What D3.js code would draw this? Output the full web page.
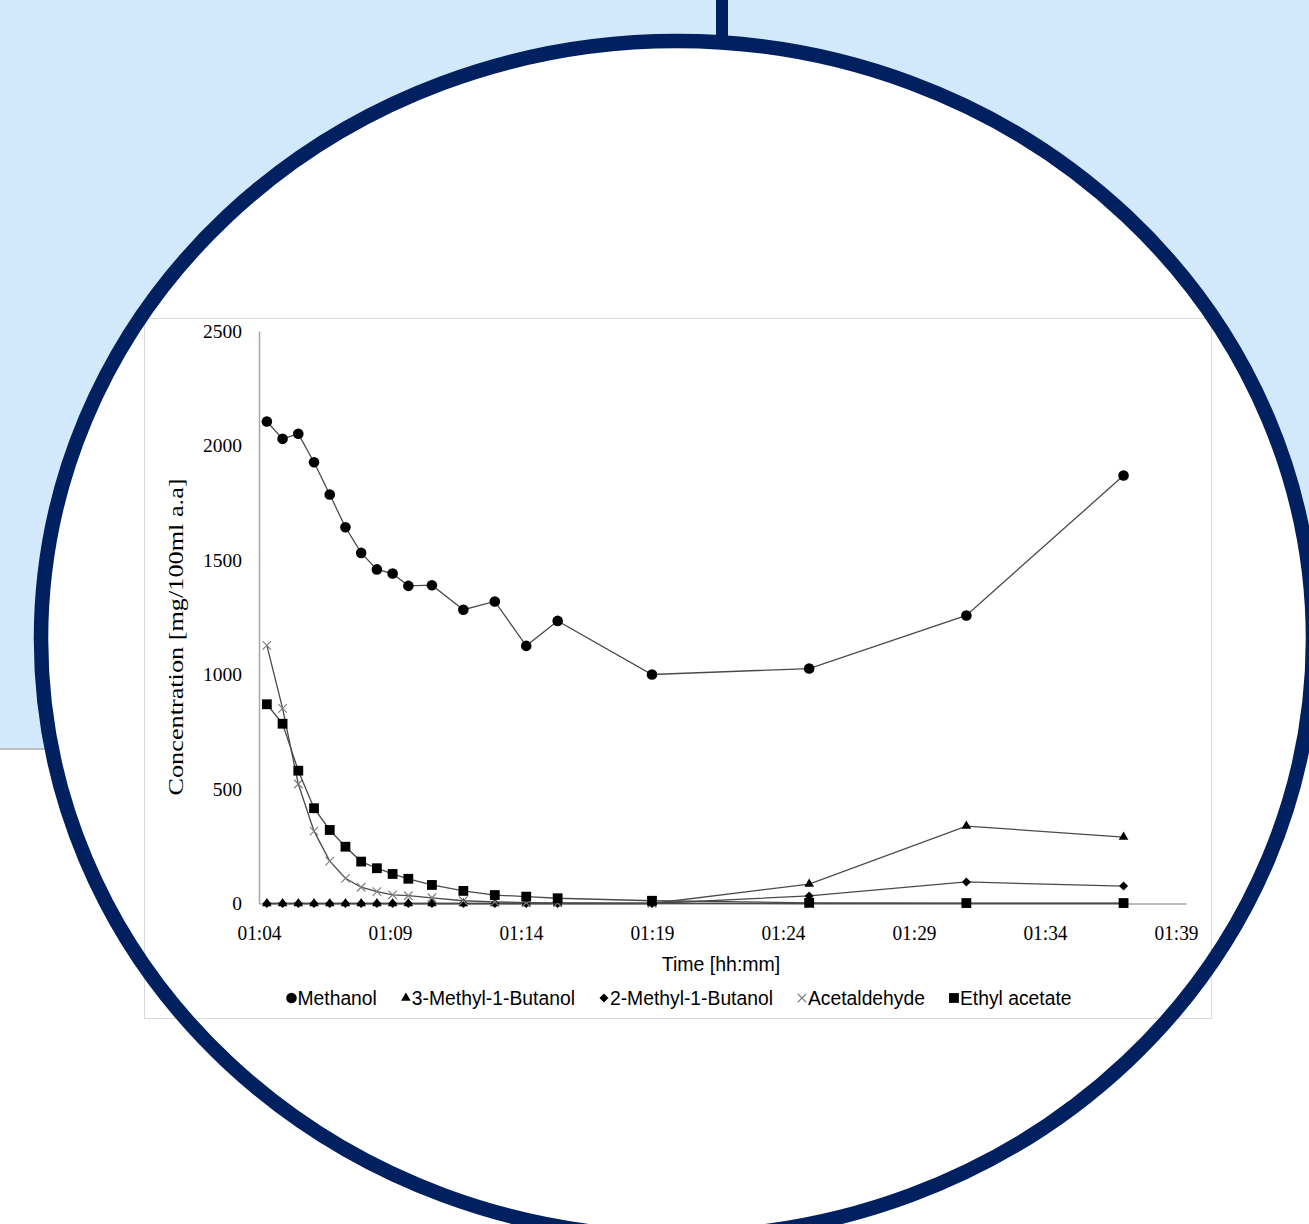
<!DOCTYPE html>
<html>
<head>
<meta charset="utf-8">
<script src="https://cdn.jsdelivr.net/npm/d3@7"></script>
<style>
  body { margin: 0; background: #fff; }
  svg { display: block; }
</style>
</head>
<body>
<svg id="chart" width="1309" height="1224"></svg>
<script>
// sampling times (hh:mm:ss)
var times = ["01:04:18", "01:04:54", "01:05:30", "01:06:06", "01:06:42", "01:07:18", "01:07:54",
             "01:08:30", "01:09:06", "01:09:42", "01:10:36", "01:11:48", "01:13:00", "01:14:12",
             "01:15:24", "01:19:00", "01:25:00", "01:31:00", "01:37:00"];

// concentrations, mg/100ml a.a
var methanol      = [2105, 2029, 2051, 1927, 1786, 1643, 1531, 1459, 1441, 1387, 1390, 1283, 1319, 1125, 1234, 1000, 1026, 1258, 1869];
var methylBut3    = [0, 0, 0, 0, 0, 0, 0, 0, 0, 0, 0, 0, 0, 0, 0, 0, 85, 338, 290];
var methylBut2    = [0, 0, 0, 0, 0, 0, 0, 0, 0, 0, 0, 0, 0, 0, 0, 0, 33, 94, 76];
var acetaldehyde  = [1127, 852, 522, 316, 185, 110, 71, 52, 38, 34, 25, 12, 7, 4, 3, 1, 0, 0, 0];
var ethylAcetate  = [870, 785, 580, 416, 321, 248, 183, 154, 129, 108, 81, 55, 37, 30, 23, 12, 3, 2, 2];

var seriesNames = ["Methanol", "3-Methyl-1-Butanol", "2-Methyl-1-Butanol", "Acetaldehyde", "Ethyl acetate"];
var yTicks = [0, 500, 1000, 1500, 2000, 2500];
var xTickLabels = ["01:04", "01:09", "01:14", "01:19", "01:24", "01:29", "01:34", "01:39"];
var xEnd = "01:39:23";

var navy = "#002060";
var lightBlue = "#d2e9fc";
var serif = "'Liberation Serif', 'Times New Roman', serif";
var sans = "'Liberation Sans', Arial, sans-serif";

var svg = d3.select("#chart");

// background slide
svg.append("rect").attr("x", 0).attr("y", 0).attr("width", 1309).attr("height", 748).attr("fill", lightBlue);
svg.append("line").attr("x1", 0).attr("x2", 1309).attr("y1", 749).attr("y2", 749)
   .attr("stroke", "#bfbfbf").attr("stroke-width", 2);
svg.append("ellipse").attr("cx", 677).attr("cy", 639).attr("rx", 636).attr("ry", 598).attr("fill", "#fff");
svg.append("rect").attr("x", 716).attr("y", 0).attr("width", 12).attr("height", 42).attr("fill", navy);

// chart panel
svg.append("rect").attr("x", 144.5).attr("y", 318.5).attr("width", 1067).attr("height", 700)
   .attr("fill", "#fff").attr("stroke", "#d9d9d9").attr("stroke-width", 1);

var parseTime = d3.utcParse("%H:%M:%S");
var parseTick = d3.utcParse("%H:%M");

var x = d3.scaleUtc()
    .domain([parseTick(xTickLabels[0]), parseTime(xEnd)])
    .range([259, 1186]);
var y = d3.scaleLinear()
    .domain([0, 2500])
    .range([903.5, 331]);

var xAxis = svg.append("g")
    .attr("transform", "translate(0," + y(0) + ")")
    .call(d3.axisBottom(x)
      .tickValues(xTickLabels.map(parseTick))
      .tickFormat(d3.utcFormat("%H:%M"))
      .tickSize(0));
xAxis.select(".domain").attr("stroke", "#a6a6a6").attr("stroke-width", 1.5);
xAxis.selectAll("text")
    .attr("y", 36.5).attr("dy", null)
    .attr("transform", "scale(0.88,1)")
    .attr("fill", "#000")
    .style("font-family", serif).style("font-size", "22px");

var yAxis = svg.append("g")
    .attr("transform", "translate(" + x.range()[0] + ",0)")
    .call(d3.axisLeft(y).tickValues(yTicks).tickFormat(d3.format("d")).tickSize(0).tickPadding(17));
yAxis.select(".domain").attr("stroke", "#a6a6a6").attr("stroke-width", 1.5);
yAxis.selectAll("text")
    .attr("fill", "#000")
    .style("font-family", serif).style("font-size", "19.5px");

// axis titles
svg.append("text")
    .attr("transform", "translate(183,637) rotate(-90) scale(1.25,1)")
    .attr("text-anchor", "middle")
    .style("font-family", serif).style("font-size", "21px")
    .text("Concentration [mg/100ml a.a]");

svg.append("text")
    .attr("transform", "translate(721,971) scale(0.93,1)")
    .attr("text-anchor", "middle")
    .style("font-family", sans).style("font-size", "21px")
    .text("Time [hh:mm]");

// marker shapes
var diamond = { draw: function(ctx, size) {
  var r = Math.sqrt(size) / 2;
  ctx.moveTo(0, -r); ctx.lineTo(r, 0); ctx.lineTo(0, r); ctx.lineTo(-r, 0); ctx.closePath();
}};
var cross = { draw: function(ctx, size) {
  var r = Math.sqrt(size) / 2;
  ctx.moveTo(-r, -r); ctx.lineTo(r, r); ctx.moveTo(r, -r); ctx.lineTo(-r, r);
}};

var markers = [
  { type: d3.symbolCircle,   size: 88, fill: "#000", stroke: "none" },
  { type: d3.symbolTriangle, size: 40, fill: "#000", stroke: "none" },
  { type: diamond,           size: 81, fill: "#000", stroke: "none" },
  { type: cross,             size: 72, fill: "none", stroke: "#7f7f7f" },
  { type: d3.symbolSquare,   size: 96, fill: "#000", stroke: "none" }
];

var seriesValues = [methanol, methylBut3, methylBut2, acetaldehyde, ethylAcetate];
var series = seriesValues.map(function(vals) {
  return vals.map(function(v, i) { return { t: parseTime(times[i]), v: v }; });
});

var line = d3.line()
    .x(function(d) { return x(d.t); })
    .y(function(d) { return y(d.v); });

series.forEach(function(data, k) {
  var m = markers[k];
  svg.append("path")
      .datum(data)
      .attr("d", line)
      .attr("fill", "none")
      .attr("stroke", "#4a4a4a")
      .attr("stroke-width", 1.3);
  svg.append("g").selectAll("path")
      .data(data)
      .enter()
      .append("path")
      .attr("d", d3.symbol().type(m.type).size(m.size))
      .attr("transform", function(d) { return "translate(" + x(d.t) + "," + y(d.v) + ")"; })
      .attr("fill", m.fill)
      .attr("stroke", m.stroke)
      .attr("stroke-width", 1.2);
});

// legend
var legend = svg.append("g");
var lx = 0;
seriesNames.forEach(function(name, k) {
  var m = markers[k];
  var g = legend.append("g").attr("transform", "translate(" + lx + ",0)");
  g.append("path")
      .attr("d", d3.symbol().type(m.type).size(m.size))
      .attr("transform", "translate(5,-7)")
      .attr("fill", m.fill)
      .attr("stroke", m.stroke)
      .attr("stroke-width", 1.1);
  var t = g.append("text")
      .attr("transform", "translate(11,0) scale(0.92,1)")
      .style("font-family", sans).style("font-size", "21px")
      .text(name);
  lx += 11 + t.node().getComputedTextLength() * 0.92 + 24;
});
legend.attr("transform", "translate(" + (679 - (lx - 24) / 2) + ",1005)");

// frame ellipse drawn over everything
svg.append("ellipse").attr("cx", 677).attr("cy", 639).attr("rx", 636).attr("ry", 598)
   .attr("fill", "none").attr("stroke", navy).attr("stroke-width", 14.5);
</script>
</body>
</html>
